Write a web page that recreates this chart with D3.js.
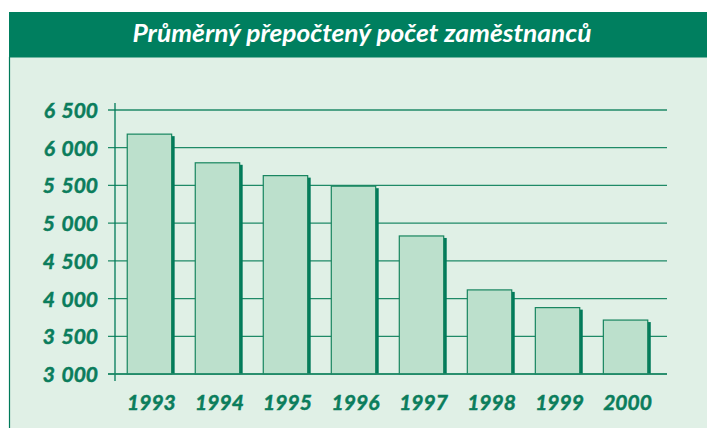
<!DOCTYPE html>
<html><head><meta charset="utf-8">
<script src="https://cdn.jsdelivr.net/npm/d3@7"></script>
<style>body{margin:0;background:#fff;overflow:hidden}</style>
</head><body>
<svg id="c" width="707" height="428"></svg>
<script>
const titleText = "Průměrný přepočtený počet zaměstnanců";
const years = ["1993","1994","1995","1996","1997","1998","1999","2000"];
const employees = [6180, 5800, 5630, 5490, 4830, 4115, 3880, 3715];
const yTicks = [3000, 3500, 4000, 4500, 5000, 5500, 6000, 6500];
const yTickLabels = ["3 000","3 500","4 000","4 500","5 000","5 500","6 000","6 500"];

const svg = d3.select("#c");
const font = "Lato, 'Open Sans', sans-serif";
const dark = "#007a5a";
const labelColor = "#0b7d5c";

// panel background
svg.append("rect").attr("x", 9).attr("y", 57).attr("width", 698).attr("height", 371).attr("fill", "#e0f0e6");
svg.append("line").attr("x1", 9.5).attr("x2", 9.5).attr("y1", 57).attr("y2", 428).attr("stroke", dark).attr("stroke-width", 1.2);
// title band
svg.append("rect").attr("x", 9).attr("y", 12).attr("width", 698).attr("height", 45.5).attr("fill", "#007f5f");
const t = svg.append("text").attr("x", 362).attr("y", 42).attr("text-anchor", "middle")
  .attr("fill", "#fff").attr("font-family", font).attr("font-weight", "bold").attr("font-style", "italic")
  .attr("font-size", 25).text(titleText);
const tw = t.node().getComputedTextLength();
if (tw > 0) t.attr("textLength", 459).attr("lengthAdjust", "spacingAndGlyphs");

const y = d3.scaleLinear().domain([3000, 6500]).range([374, 110]);
const x = d3.scaleBand().domain(years).range([115, 660]).paddingInner(0.347).paddingOuter(0.18);

// gridlines + ticks
const g = svg.append("g");
g.selectAll("line.grid").data(yTicks).join("line").attr("class", "grid")
  .attr("x1", 108).attr("x2", 667).attr("y1", d => y(d)).attr("y2", d => y(d))
  .attr("stroke", "#1f8a67").attr("stroke-width", 1.3);
g.append("line").attr("x1", 115).attr("x2", 115).attr("y1", 103).attr("y2", 381)
  .attr("stroke", dark).attr("stroke-width", 1.3);

// tick labels
svg.selectAll("text.yl").data(yTicks).join("text").attr("class", "yl")
  .attr("x", 98).attr("y", d => y(d) + 8).attr("text-anchor", "end")
  .attr("fill", labelColor).attr("stroke", labelColor).attr("stroke-width", 0.5)
  .attr("font-family", font).attr("font-weight", "bold").attr("font-style", "italic")
  .attr("word-spacing", 2)
  .attr("font-size", 21).text((d, i) => yTickLabels[i]);

// bars
const bars = svg.append("g");
bars.selectAll("rect.sh").data(employees).join("rect").attr("class", "sh")
  .attr("x", (d, i) => x(years[i]) + 3).attr("y", d => y(d) + 2)
  .attr("width", x.bandwidth()).attr("height", d => y(3000) - y(d) - 2)
  .attr("fill", dark);
bars.selectAll("rect.b").data(employees).join("rect").attr("class", "b")
  .attr("x", (d, i) => x(years[i])).attr("y", d => y(d))
  .attr("width", x.bandwidth()).attr("height", d => y(3000) - y(d))
  .attr("fill", "#bce0cc").attr("stroke", "#17855f").attr("stroke-width", 1.2);
// baseline on top
svg.append("line").attr("x1", 108).attr("x2", 667).attr("y1", y(3000)).attr("y2", y(3000))
  .attr("stroke", "#1f8a67").attr("stroke-width", 1.5);

// year labels
svg.selectAll("text.xl").data(years).join("text").attr("class", "xl")
  .attr("x", d => x(d) + x.bandwidth() / 2 + 2).attr("y", 410).attr("text-anchor", "middle")
  .attr("fill", labelColor).attr("stroke", labelColor).attr("stroke-width", 0.5)
  .attr("font-family", font).attr("font-weight", "bold").attr("font-style", "italic")
  .attr("font-size", 21).text(d => d);
</script>
</body></html>
